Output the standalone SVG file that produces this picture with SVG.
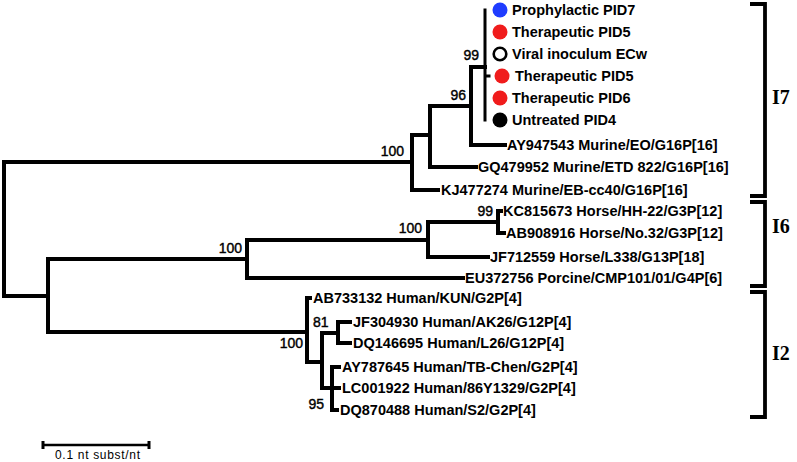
<svg xmlns="http://www.w3.org/2000/svg" width="797" height="462" viewBox="0 0 797 462">
<style>
.br{stroke:#000;stroke-width:4;fill:none;stroke-linecap:square}
.lb{font-family:"Liberation Sans",Arial,sans-serif;font-weight:bold;font-size:14.5px;fill:#000}
.bs{font-family:"Liberation Sans",Arial,sans-serif;font-size:14px;fill:#000;stroke:#000;stroke-width:0.4}
.cl{font-family:"Liberation Serif","Times New Roman",serif;font-weight:bold;font-size:20px;fill:#000}
.bk{stroke:#000;stroke-width:3.8;fill:none}
</style>
<rect width="797" height="462" fill="#fff"/>
<g id="connectors" class="br">
<path d="M4,162V296M4,162H412M4,296H48"/>
<path d="M412,135V190M412,135H430M412,190H438"/>
<path d="M430,106V167M430,106H471M430,167H476"/>
<path d="M471,67V145M471,67H485M471,145H505"/>
<path d="M485,10V120M485,76H489" stroke-width="3"/>
<path d="M48,259V332M48,259H247M48,332H307"/>
<path d="M247,240V278M247,240H428M247,278H463"/>
<path d="M428,222V257M428,222H498M428,257H488"/>
<path d="M498,211V233M498,211H501M498,233H504"/>
<path d="M307,298V362M307,298H310M307,362H322"/>
<path d="M322,333V388M322,333H338M322,388H332"/>
<path d="M338,322V343M338,322H350M338,343H350"/>
<path d="M332,367V410M332,367H339M332,388H339M332,410H337"/>
</g>
<g id="bootstrap">
<text class="bs" x="479" y="60" text-anchor="end">99</text>
<text class="bs" x="466" y="100" text-anchor="end">96</text>
<text class="bs" x="404" y="156" text-anchor="end">100</text>
<text class="bs" x="242" y="253" text-anchor="end">100</text>
<text class="bs" x="422" y="233" text-anchor="end">100</text>
<text class="bs" x="493" y="216" text-anchor="end">99</text>
<text class="bs" x="303" y="348" text-anchor="end">100</text>
<text class="bs" x="313" y="327">81</text>
<text class="bs" x="324" y="409" text-anchor="end">95</text>
</g>
<g id="leaf-prophylactic-pid7"><circle cx="500" cy="10" r="7.5" fill="#1f3cff"/><text class="lb" x="512" y="15">Prophylactic PID7</text></g>
<g id="leaf-therapeutic-pid5-a"><circle cx="500" cy="32" r="7.5" fill="#f01c1c"/><text class="lb" x="512" y="37">Therapeutic PID5</text></g>
<g id="leaf-viral-inoculum"><circle cx="500" cy="54" r="6.3" fill="#fff" stroke="#000" stroke-width="2.6"/><text class="lb" x="512" y="59">Viral inoculum ECw</text></g>
<g id="leaf-therapeutic-pid5-b"><circle cx="502" cy="76" r="7.5" fill="#f01c1c"/><text class="lb" x="515" y="81">Therapeutic PID5</text></g>
<g id="leaf-therapeutic-pid6"><circle cx="500" cy="98" r="7.5" fill="#f01c1c"/><text class="lb" x="512" y="103">Therapeutic PID6</text></g>
<g id="leaf-untreated-pid4"><circle cx="500" cy="120" r="7.5" fill="#000"/><text class="lb" x="512" y="125">Untreated PID4</text></g>
<g id="leaf-AY947543"><text class="lb" x="507" y="150">AY947543 Murine/EO/G16P[16]</text></g>
<g id="leaf-GQ479952"><text class="lb" x="478" y="172">GQ479952 Murine/ETD 822/G16P[16]</text></g>
<g id="leaf-KJ477274"><text class="lb" x="441" y="195">KJ477274 Murine/EB-cc40/G16P[16]</text></g>
<g id="leaf-KC815673"><text class="lb" x="503" y="216">KC815673 Horse/HH-22/G3P[12]</text></g>
<g id="leaf-AB908916"><text class="lb" x="506" y="238">AB908916 Horse/No.32/G3P[12]</text></g>
<g id="leaf-JF712559"><text class="lb" x="490" y="262">JF712559 Horse/L338/G13P[18]</text></g>
<g id="leaf-EU372756"><text class="lb" x="465" y="283">EU372756 Porcine/CMP101/01/G4P[6]</text></g>
<g id="leaf-AB733132"><text class="lb" x="313" y="303">AB733132 Human/KUN/G2P[4]</text></g>
<g id="leaf-JF304930"><text class="lb" x="353" y="327">JF304930 Human/AK26/G12P[4]</text></g>
<g id="leaf-DQ146695"><text class="lb" x="353" y="348">DQ146695 Human/L26/G12P[4]</text></g>
<g id="leaf-AY787645"><text class="lb" x="342" y="372">AY787645 Human/TB-Chen/G2P[4]</text></g>
<g id="leaf-LC001922"><text class="lb" x="342" y="393">LC001922 Human/86Y1329/G2P[4]</text></g>
<g id="leaf-DQ870488"><text class="lb" x="340" y="415">DQ870488 Human/S2/G2P[4]</text></g>
<g id="clade-I7"><path class="bk" d="M750,4H765V196H750"/><text class="cl" x="772" y="104">I7</text></g>
<g id="clade-I6"><path class="bk" d="M750,202H765V286H750"/><text class="cl" x="772" y="233">I6</text></g>
<g id="clade-I2"><path class="bk" d="M750,292H765V417H750"/><text class="cl" x="772" y="360">I2</text></g>
<g id="scale-bar">
<path d="M43,445H149" stroke="#000" stroke-width="2.5"/>
<path d="M43,441V449M149,441V449" stroke="#000" stroke-width="3"/>
<text x="55" y="459" font-family="Liberation Sans,Arial,sans-serif" font-size="12" textLength="85" lengthAdjust="spacing">0.1 nt subst/nt</text>
</g>
</svg>
